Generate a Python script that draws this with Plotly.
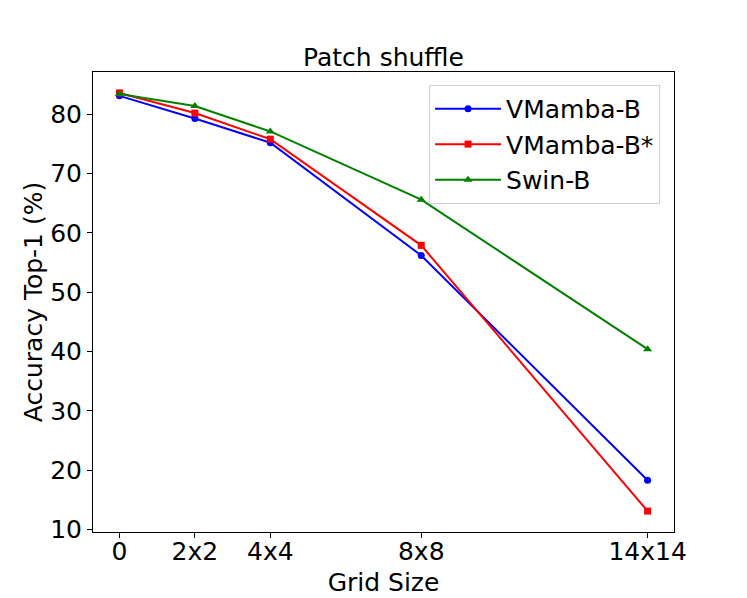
import plotly.graph_objects as go

grid_x = [0, 2, 4, 8, 14]
grid_labels = ["0", "2x2", "4x4", "8x8", "14x14"]
vmamba_b = [83.1, 79.3, 75.2, 56.2, 18.3]
vmamba_b_star = [83.6, 80.2, 75.8, 57.9, 13.1]
swin_b = [83.4, 81.4, 77.1, 65.6, 40.4]

FONT = "DejaVu Sans"
FS = 25

fig = go.Figure()
fig.add_trace(go.Scatter(x=grid_x, y=vmamba_b, mode="lines+markers", name="VMamba-B",
                         line=dict(color="blue", width=2),
                         marker=dict(symbol="circle", size=7, color="blue")))
fig.add_trace(go.Scatter(x=grid_x, y=vmamba_b_star, mode="lines+markers", name="VMamba-B*",
                         line=dict(color="red", width=2),
                         marker=dict(symbol="square", size=7, color="red")))
fig.add_trace(go.Scatter(x=grid_x, y=swin_b, mode="lines+markers", name="Swin-B",
                         line=dict(color="green", width=2),
                         marker=dict(symbol="triangle-up", size=8, color="green")))

fig.update_layout(
    width=739, height=590,
    margin=dict(l=85, r=73, t=64, b=66, autoexpand=False),
    paper_bgcolor="white", plot_bgcolor="white",
    font=dict(family=FONT, size=FS, color="black"),
    title=dict(text="Patch shuffle", x=0.5, xref="paper", xanchor="center",
               y=1, yref="paper", yanchor="bottom", pad=dict(b=6),
               font=dict(family=FONT, size=FS, color="black")),
    legend=dict(x=0.976, y=0.972, xanchor="right", yanchor="top",
                bgcolor="rgba(255,255,255,0.8)", bordercolor="#d0d0d0", borderwidth=1,
                font=dict(family=FONT, size=FS, color="black"),
                tracegroupgap=0, itemwidth=66),
    showlegend=True,
)
fig.update_xaxes(range=[-0.7, 14.7], tickvals=grid_x, ticktext=grid_labels, automargin=False,
                 showgrid=False, zeroline=False, showline=True, linecolor="black", linewidth=1,
                 mirror=True, ticks="outside", ticklen=5, tickcolor="black",
                 ticklabelstandoff=-8,
                 title=dict(text="Grid Size", standoff=8, font=dict(family=FONT, size=FS)),
                 tickfont=dict(family=FONT, size=FS))
fig.update_yaxes(range=[9.575, 87.125], tickvals=[10, 20, 30, 40, 50, 60, 70, 80], automargin=False,
                 showgrid=False, zeroline=False, showline=True, linecolor="black", linewidth=1,
                 mirror=True, ticks="outside", ticklen=5, tickcolor="black",
                 title=dict(text="Accuracy Top-1 (%)", standoff=0, font=dict(family=FONT, size=FS)),
                 tickfont=dict(family=FONT, size=FS))

fig.write_html("out.html")
